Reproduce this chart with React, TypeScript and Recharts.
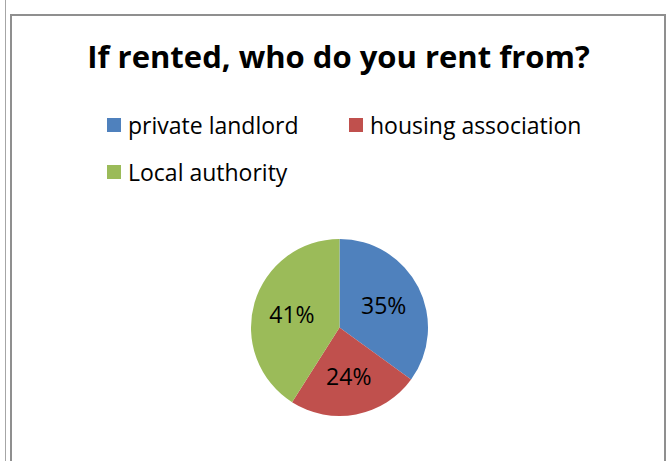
import React from "react";
import { PieChart, Pie, Cell } from "recharts";

const categories = ["private landlord", "housing association", "Local authority"];
const values = [35, 24, 41];
const colors = ["#4F81BD", "#C0504D", "#9BBB59"];
const title = "If rented, who do you rent from?";

const data = categories.map((name, i) => ({ name, value: values[i] }));
const total = values.reduce((a, b) => a + b, 0);

const FONT = "'Open Sans', Lato, sans-serif";

const RADIAN = Math.PI / 180;
const renderLabel = (props: any) => {
  const { cx, cy, midAngle, outerRadius, value } = props;
  const r = outerRadius * 0.56;
  const x = cx + r * Math.cos(-midAngle * RADIAN);
  const y = cy + r * Math.sin(-midAngle * RADIAN);
  return (
    <text
      x={x}
      y={y}
      textAnchor="middle"
      dominantBaseline="central"
      fill="#000"
      fontFamily={FONT}
      fontSize={23}
    >
      {`${Math.round((value / total) * 100)}%`}
    </text>
  );
};

const legendPos = [
  { left: 107, top: 111 },
  { left: 349, top: 111 },
  { left: 107, top: 158 },
];

export default function App() {
  return (
    <div style={{ position: "absolute", left: 0, top: 0, width: 669, height: 461, background: "#fff", overflow: "hidden" }}>
      <div style={{ position: "absolute", left: 5, top: 0, width: 1, height: 461, background: "#a6a6a6" }} />
      <div style={{ position: "absolute", left: 10, top: 14, width: 656, height: 460, border: "2px solid #8f8f8f", boxSizing: "border-box" }} />
      <div
        style={{
          position: "absolute",
          left: 0,
          width: 669,
          top: 36,
          textAlign: "center",
          fontFamily: FONT,
          fontWeight: 700,
          fontSize: 31,
          lineHeight: "40px",
          color: "#000",
          paddingLeft: 4,
        }}
      >
        {title}
      </div>
      {categories.map((c, i) => (
        <div
          key={c}
          style={{
            position: "absolute",
            left: legendPos[i].left,
            top: legendPos[i].top,
            display: "flex",
            alignItems: "center",
            whiteSpace: "nowrap",
            fontFamily: FONT,
            fontSize: 23,
            color: "#000",
          }}
        >
          <span style={{ display: "inline-block", width: 14, height: 14, background: colors[i], marginRight: 7 }} />
          <span style={{ lineHeight: "28px" }}>{c}</span>
        </div>
      ))}
      <div style={{ position: "absolute", left: 0, top: 0 }}>
        <PieChart width={669} height={461} margin={{ top: 0, right: 0, bottom: 0, left: 0 }}>
          <Pie
            data={data}
            dataKey="value"
            nameKey="name"
            cx={339.5}
            cy={327.5}
            outerRadius={88.5}
            startAngle={90}
            endAngle={-270}
            stroke="none"
            label={renderLabel}
            labelLine={false}
            isAnimationActive={false}
          >
            {data.map((d, i) => (
              <Cell key={d.name} fill={colors[i]} />
            ))}
          </Pie>
        </PieChart>
      </div>
    </div>
  );
}
